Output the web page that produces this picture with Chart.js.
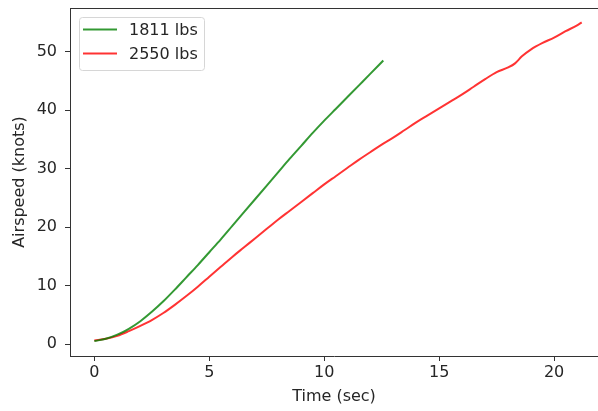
<!DOCTYPE html>
<html lang="en">
<head>
  <meta charset="UTF-8">
  <title>Airspeed vs Time</title>
  <style>
    body {
      margin: 0;
      background: #fff;
    }
    #wrap {
      width: 598px;
      height: 411px;
    }
  </style>
</head>
<body>
  <div id="wrap">
    <canvas id="speedChart" width="598" height="411"></canvas>
  </div>

  <script src="https://cdn.jsdelivr.net/npm/chart.js"></script>
  <script>
    // Values
    const seriesLabels = ['1811 lbs', '2550 lbs'];

    const lightTime = [0, 0.5, 1, 1.5, 2, 2.5, 3, 3.5, 4, 4.5, 5, 5.5, 6, 6.5, 7, 7.5, 8, 8.5,
      9, 9.5, 10, 10.5, 11, 11.5, 12, 12.57];
    const lightSpeed = [0.5, 0.9, 1.6, 2.6, 3.9, 5.5, 7.3, 9.3, 11.4, 13.5, 15.7, 17.9, 20.2, 22.5,
      24.8, 27.1, 29.4, 31.7, 33.9, 36.1, 38.2, 40.2, 42.2, 44.2, 46.2, 48.5];

    const heavyTime = [0, 0.5, 1, 1.5, 2, 2.5, 3, 3.5, 4, 4.5, 5, 5.5, 6, 6.5, 7, 7.5, 8, 8.5,
      9, 9.5, 10, 10.5, 11, 11.5, 12, 12.5, 13, 13.5, 14, 14.5, 15, 15.5, 16, 16.5, 17, 17.5,
      18, 18.3, 18.6, 19, 19.5, 20, 20.5, 21, 21.2];
    const heavySpeed = [0.6, 0.9, 1.4, 2.2, 3.1, 4.1, 5.3, 6.7, 8.2, 9.8, 11.5, 13.2, 14.9, 16.5,
      18.1, 19.7, 21.3, 22.8, 24.3, 25.8, 27.3, 28.7, 30.1, 31.5, 32.8, 34.1, 35.3, 36.6, 37.9,
      39.1, 40.3, 41.5, 42.7, 44.0, 45.3, 46.5, 47.3, 48.0, 49.2, 50.4, 51.5, 52.4, 53.5, 54.5, 55.0];

    const xTickValues = [0, 5, 10, 15, 20];
    const yTickValues = [0, 10, 20, 30, 40, 50];

    const toPoints = (xs, ys) => xs.map((x, i) => ({ x: x, y: ys[i] }));

    const FONT = "'DejaVu Sans', sans-serif";
    const INK = '#262626';
    const SPINE = '#333';

    // top spine + matplotlib-like legend box inside the axes
    const framePlugin = {
      id: 'frame',
      afterDraw(chart) {
        const { ctx, chartArea } = chart;
        ctx.save();
        ctx.strokeStyle = SPINE;
        ctx.lineWidth = 1;
        ctx.beginPath();
        ctx.moveTo(chartArea.left, chartArea.top + 0.5);
        ctx.lineTo(chartArea.right, chartArea.top + 0.5);
        ctx.stroke();

        // legend
        const bx = chartArea.left + 9, by = chartArea.top + 9, bw = 125, bh = 53;
        ctx.beginPath();
        ctx.roundRect(bx + 0.5, by + 0.5, bw, bh, 3);
        ctx.fillStyle = 'rgba(255,255,255,0.8)';
        ctx.fill();
        ctx.strokeStyle = '#d6d6d6';
        ctx.stroke();

        ctx.font = '16px ' + FONT;
        ctx.textBaseline = 'middle';
        chart.data.datasets.forEach((ds, i) => {
          const ly = by + 12.5 + i * 24;
          ctx.strokeStyle = ds.borderColor;
          ctx.lineWidth = 2;
          ctx.beginPath();
          ctx.moveTo(bx + 4, ly);
          ctx.lineTo(bx + 38, ly);
          ctx.stroke();
          ctx.fillStyle = INK;
          ctx.fillText(ds.label, bx + 50, ly + 1);
        });
        ctx.restore();
      }
    };

    new Chart(document.getElementById('speedChart').getContext('2d'), {
      type: 'line',
      data: {
        datasets: [{
          label: seriesLabels[0],
          data: toPoints(lightTime, lightSpeed),
          borderColor: 'rgba(0,128,0,0.8)',
          borderWidth: 2,
          pointRadius: 0,
          cubicInterpolationMode: 'monotone',
          fill: false
        }, {
          label: seriesLabels[1],
          data: toPoints(heavyTime, heavySpeed),
          borderColor: 'rgba(255,0,0,0.8)',
          borderWidth: 2,
          pointRadius: 0,
          cubicInterpolationMode: 'monotone',
          fill: false
        }]
      },
      plugins: [framePlugin],
      options: {
        responsive: false,
        animation: false,
        devicePixelRatio: 1,
        layout: { padding: { top: 8, right: 0, bottom: 0, left: 0 } },
        plugins: {
          legend: { display: false },
          tooltip: { enabled: false }
        },
        scales: {
          x: {
            type: 'linear',
            min: -1.06,
            max: 21.91,
            afterBuildTicks: (s) => { s.ticks = xTickValues.map(v => ({ value: v })); },
            afterFit: (s) => { s.height = 55; s.paddingLeft = 0; s.paddingRight = 0; },
            grid: { drawOnChartArea: false, tickLength: 5, color: SPINE },
            border: { color: SPINE, width: 1 },
            ticks: { color: INK, font: { family: FONT, size: 16 }, padding: 2, maxRotation: 0 },
            title: {
              display: true,
              text: 'Time (sec)',
              color: INK,
              font: { family: FONT, size: 16 },
              padding: { top: 0, bottom: 5 }
            }
          },
          y: {
            type: 'linear',
            min: -2.05,
            max: 57.47,
            afterBuildTicks: (s) => { s.ticks = yTickValues.map(v => ({ value: v })); },
            afterFit: (s) => { s.width = 70; s.paddingTop = 0; s.paddingBottom = 0; },
            grid: { drawOnChartArea: false, tickLength: 5, color: SPINE },
            border: { color: SPINE, width: 1 },
            ticks: { color: INK, font: { family: FONT, size: 16 }, padding: 8 },
            title: {
              display: true,
              text: 'Airspeed (knots)',
              color: INK,
              font: { family: FONT, size: 16 },
              padding: { top: 10, bottom: 0 }
            }
          }
        }
      }
    });
  </script>
</body>
</html>
